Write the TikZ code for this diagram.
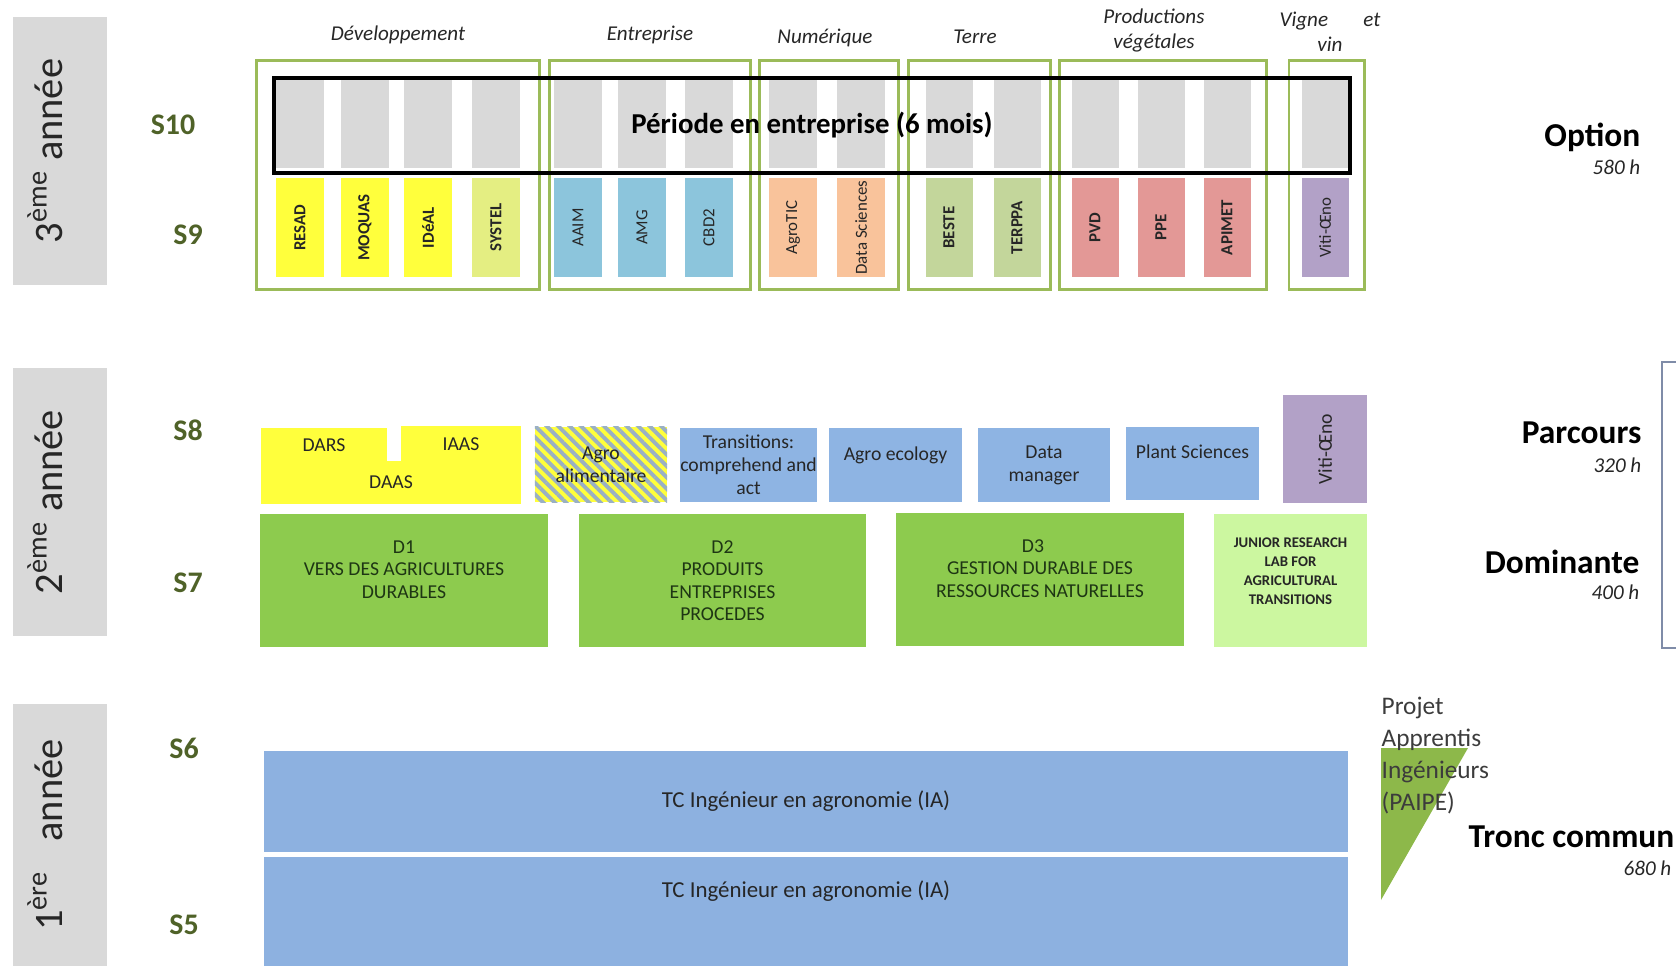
\documentclass[tikz,border=0pt]{standalone}
\usepackage{fontspec}
\setmainfont{Carlito}
\usetikzlibrary{patterns.meta}

\definecolor{cGrey}{HTML}{D9D9D9}
\definecolor{cInk}{HTML}{262626}
\definecolor{cOlive}{HTML}{4F6228}
\definecolor{cFrame}{HTML}{9BBB59}
\definecolor{cYel}{HTML}{FFFF3C}
\definecolor{cSys}{HTML}{E4EE82}
\definecolor{cEnt}{HTML}{8CC5DC}
\definecolor{cNum}{HTML}{F9C39B}
\definecolor{cTer}{HTML}{C3D69B}
\definecolor{cPro}{HTML}{E39896}
\definecolor{cVit}{HTML}{B2A1C7}
\definecolor{cBlue}{HTML}{8EB4E3}
\definecolor{cHatch}{HTML}{9AB0C4}
\definecolor{cDom}{HTML}{8DCB4E}
\definecolor{cJRL}{HTML}{CCF7A0}
\definecolor{cDtxt}{HTML}{1E3614}
\definecolor{cTC}{HTML}{8DB1E0}
\definecolor{cTri}{HTML}{8DB84A}
\definecolor{cRim}{HTML}{7F8CA8}

\newcommand{\lifted}[1]{\raisebox{4.3pt}[\height][\depth]{#1}}

\begin{document}
\begin{tikzpicture}[x=0.01cm,y=-0.01cm,
	year/.style={fill=cGrey, rotate=90, minimum width=2.68cm, minimum height=0.94cm, inner sep=0pt, text=cInk, font=\fontsize{11.5}{13}\selectfont},
	sem/.style={text=cOlive, font=\fontsize{8.5}{10}\selectfont\bfseries},
	cat/.style={text=cInk, font=\fontsize{6}{7.1}\selectfont\itshape, align=center},
	greycol/.style={fill=cGrey, minimum width=0.47cm, minimum height=0.9cm, inner sep=0pt},
	optbar/.style={rotate=90, minimum width=0.99cm, minimum height=0.47cm, inner sep=0pt, text=cInk, font=\fontsize{4.8}{5.5}\selectfont},
	famframe/.style={draw=cFrame, line width=0.85pt, minimum height=2.28cm, inner sep=0pt},
	tile/.style={minimum height=0.74cm, inner sep=0pt, align=center, text=cInk, font=\fontsize{5.6}{6.5}\selectfont},
	dom/.style={fill=cDom, minimum height=1.33cm, inner sep=0pt, align=center, text=cDtxt, font=\fontsize{5.6}{6.4}\selectfont},
	tc/.style={fill=cTC, minimum width=10.84cm, inner sep=0pt, align=center, text=cInk, font=\fontsize{6.5}{7.6}\selectfont},
	head/.style={anchor=east, inner sep=0pt, text=black, font=\fontsize{9.5}{11}\selectfont\bfseries},
	hours/.style={anchor=east, inner sep=0pt, text=cInk, font=\fontsize{6}{7}\selectfont\itshape}]
	\useasboundingbox (0,0) rectangle (1676,966);
	
	\node[year] (Y3) at (60,151) {\lifted{3\textsuperscript{ème} année}};
	\node[year] (Y2) at (60,502) {\lifted{2\textsuperscript{ème} année}};
	\node[year, minimum width=2.62cm] (Y1) at (60,835) {\lifted{1\textsuperscript{ère}\hspace{0.5em} année}};
	
	\node[sem] (S10) at (173,125) {S10};
	\node[sem] (S9) at (188,235) {S9};
	\node[sem] (S8) at (188,430) {S8};
	\node[sem] (S7) at (188,583) {S7};
	\node[sem] (S6) at (184,748) {S6};
	\node[sem] (S5) at (184,925) {S5};
	
	\node[cat] (cDev) at (398,35) {Développement};
	\node[cat] (cEntr) at (650,35) {Entreprise};
	\node[cat] (cNumq) at (825,38) {Numérique};
	\node[cat] (cTerre) at (975,37) {Terre};
	\node[cat] (cProd) at (1154,30) {Productions\\végétales};
	\node[cat] (cVigne) at (1330,32) {\makebox[28.7pt][s]{Vigne\hfill et}\\vin};
	
	\node[greycol] (G1) at (300,123) {};
	\node[greycol] (G2) at (365,123) {};
	\node[greycol] (G3) at (428,123) {};
	\node[greycol] (G4) at (496,123) {};
	\node[greycol] (G5) at (578,123) {};
	\node[greycol] (G6) at (642,123) {};
	\node[greycol] (G7) at (709,123) {};
	\node[greycol] (G8) at (793,123) {};
	\node[greycol] (G9) at (861,123) {};
	\node[greycol] (G10) at (949,123) {};
	\node[greycol] (G11) at (1017,123) {};
	\node[greycol] (G12) at (1095,123) {};
	\node[greycol] (G13) at (1161,123) {};
	\node[greycol] (G14) at (1227,123) {};
	\node[greycol] (G15) at (1325,123) {};
	
	\node[optbar, fill=cYel] (RESAD) at (300,227.5) {\bfseries RESAD};
	\node[optbar, fill=cYel] (MOQUAS) at (365,227.5) {\bfseries MOQUAS};
	\node[optbar, fill=cYel] (IDEAL) at (428,227.5) {\bfseries IDéAL};
	\node[optbar, fill=cSys] (SYSTEL) at (496,227.5) {\bfseries SYSTEL};
	\node[optbar, fill=cEnt] (AAIM) at (578,227.5) {AAIM};
	\node[optbar, fill=cEnt] (AMG) at (642,227.5) {AMG};
	\node[optbar, fill=cEnt] (CBD) at (709,227.5) {CBD2};
	\node[optbar, fill=cNum] (ATIC) at (793,227.5) {AgroTIC};
	\node[optbar, fill=cNum] (DSCI) at (861,227.5) {Data Sciences};
	\node[optbar, fill=cTer] (BESTE) at (949,227.5) {\bfseries BESTE};
	\node[optbar, fill=cTer] (TERPPA) at (1017,227.5) {\bfseries TERPPA};
	\node[optbar, fill=cPro] (PVD) at (1095,227.5) {\bfseries PVD};
	\node[optbar, fill=cPro] (PPE) at (1161,227.5) {\bfseries PPE};
	\node[optbar, fill=cPro] (APIMET) at (1227,227.5) {\bfseries APIMET};
	\node[optbar, fill=cVit] (VITI) at (1325,227.5) {Viti-Œno};
	
	\node[famframe, minimum width=2.82cm] (fDev) at (398,175) {};
	\node[famframe, minimum width=2.00cm] (fEntr) at (650,175) {};
	\node[famframe, minimum width=1.38cm] (fNum) at (829,175) {};
	\node[famframe, minimum width=1.41cm] (fTerre) at (979.5,175) {};
	\node[famframe, minimum width=2.06cm] (fProd) at (1163,175) {};
	\node[famframe, minimum width=0.75cm] (fVigne) at (1326.5,175) {};
	
	\node[draw=black, line width=1.2pt, minimum width=10.76cm, minimum height=0.95cm, inner sep=0pt, font=\fontsize{8.2}{10}\selectfont\bfseries] (STAGE) at (812,125.5) {Période en entreprise (6 mois)\hspace{12pt}};
	
	\node[head] (OPT) at (1641,137) {Option};
	\node[hours] (hOPT) at (1641,167) {580 h};
	
	\node[tile, fill=cYel, minimum width=1.26cm, minimum height=0.35cm] (DARS) at (324,445) {DARS};
	\node[tile, fill=cYel, minimum width=1.20cm, minimum height=0.37cm] (IAAS) at (461,444) {IAAS};
	\node[tile, fill=cYel, minimum width=2.60cm, minimum height=0.43cm] (DAAS) at (391,482.5) {DAAS};
	\node[tile, minimum width=1.32cm, minimum height=0.75cm, preaction={fill=cYel}, pattern={Lines[angle=-45,distance=2.3pt,line width=1.1pt]}, pattern color=cHatch] (ALIM) at (601,464.5) {Agro\\alimentaire};
	\node[tile, fill=cBlue, minimum width=1.33cm] (TRANS) at (748.5,465) {Transitions:\\comprehend and\\act};
	\node[tile, fill=cBlue, minimum width=1.33cm] (ECO) at (895.5,465) {Agro ecology\\~};
	\node[tile, fill=cBlue, minimum width=1.32cm] (DATA) at (1044,465) {Data\\manager};
	\node[tile, fill=cBlue, minimum width=1.33cm, minimum height=0.73cm] (PLANT) at (1192.5,463.5) {Plant Sciences\\~};
	\node[tile, fill=cVit, rotate=90, minimum width=1.08cm, minimum height=0.84cm] (VITIP) at (1325,449) {Viti-Œno};
	
	\node[dom, minimum width=2.88cm] (D1) at (404,580.5) {D1\\VERS DES AGRICULTURES\\DURABLES\\~};
	\node[dom, minimum width=2.87cm] (D2) at (722.5,580.5) {D2\\PRODUITS\\ENTREPRISES\\PROCEDES};
	\node[dom, minimum width=2.88cm] (D3) at (1040,579.5) {D3\hspace*{4pt}\\GESTION DURABLE DES\hspace*{4pt}\\RESSOURCES NATURELLES\hspace*{4pt}\\~};
	\node[dom, fill=cJRL, minimum width=1.53cm, text=cInk, font=\fontsize{4.2}{5.4}\selectfont\bfseries] (JRL) at (1290.5,580.5) {JUNIOR RESEARCH\\LAB FOR\\AGRICULTURAL\\TRANSITIONS\\~};
	
	\node[head] (PARC) at (1642,433) {Parcours};
	\node[hours] (hPARC) at (1642,465) {320 h};
	\node[head] (DOMI) at (1640,562) {Dominante};
	\node[hours] (hDOMI) at (1640,592) {400 h};
	\draw[cRim, line width=0.6pt] (1676,362) -- (1662,362) -- (1662,648) -- (1676,648);
	
	\node[tc, minimum height=1.01cm] (TC6) at (806,801.5) {TC Ingénieur en agronomie (IA)};
	\node[tc, minimum height=1.09cm] (TC5) at (806,911.5) {TC Ingénieur en agronomie (IA)\\[5pt]~};
	
	\fill[cTri] (1381,748) -- (1468,748) -- (1381,900) -- cycle;
	\node[anchor=north west, inner sep=0pt, align=left, text=cInk!90, font=\fontsize{7.2}{9.1}\selectfont] (PAIPE) at (1381,696) {Projet\\Apprentis\\Ingénieurs\\(PAIPE)};
	
	\node[head] (TRONC) at (1675,837) {Tronc commun};
	\node[hours] (hTRONC) at (1672,868) {680 h};
	
\end{tikzpicture}
\end{document}
